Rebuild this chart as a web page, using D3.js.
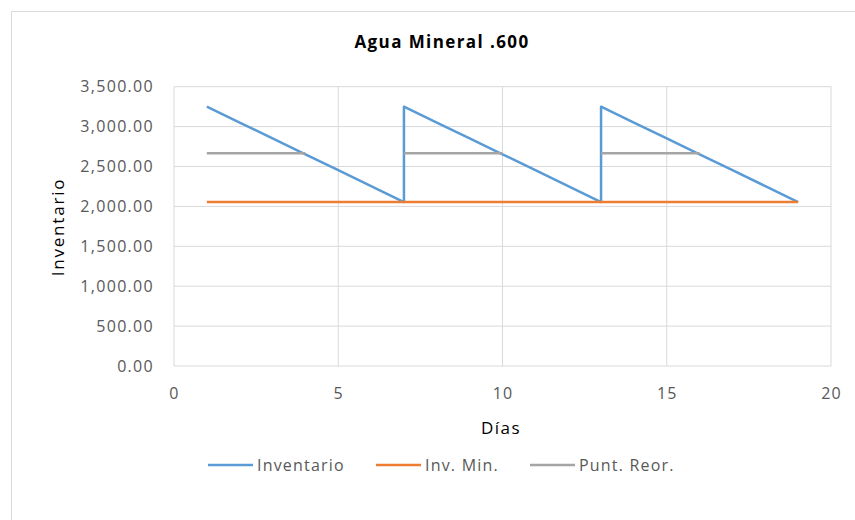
<!DOCTYPE html>
<html>
<head>
<meta charset="utf-8">
<script src="https://cdn.jsdelivr.net/npm/d3@7"></script>
<style>
  body { margin: 0; background: #fff; }
  svg text { font-family: "Open Sans", "Noto Sans", sans-serif; }
</style>
</head>
<body>
<div id="chart"></div>
<script>
// days (day 7 and 13 appear twice: end of cycle + restock)
var dias = [1, 2, 3, 4, 5, 6, 7, 7, 8, 9, 10, 11, 12, 13, 13, 14, 15, 16, 17, 18, 19];
var inventario = [3250, 3051, 2852, 2653, 2454, 2254, 2055, 3250, 3051, 2852, 2653, 2454, 2254, 2055, 3250, 3051, 2852, 2653, 2454, 2254, 2055];
var invMin = [2055, 2055, 2055, 2055, 2055, 2055, 2055, 2055, 2055, 2055, 2055, 2055, 2055, 2055, 2055, 2055, 2055, 2055, 2055, 2055, 2055];
var puntReor = [2665, 2665, 2665, 2665, null, null, null, 2665, 2665, 2665, 2665, null, null, null, 2665, 2665, 2665, 2665, null, null, null];
var xTicks = [0, 5, 10, 15, 20];
var yTicks = [0, 500, 1000, 1500, 2000, 2500, 3000, 3500];

var series = [
  {name: "Inventario", values: inventario, color: "#5B9BD5"},
  {name: "Inv. Min.", values: invMin, color: "#ED7D31"},
  {name: "Punt. Reor.", values: puntReor, color: "#A5A5A5"}
];

function drawChart() {
  var W = 855, H = 520;
  var pLeft = 174, pRight = 831, pTop = 86.7, pBottom = 366;

  var svg = d3.select("#chart").append("svg")
    .attr("width", W)
    .attr("height", H);

  // chart border (right/bottom edges fall outside the picture)
  svg.append("rect")
    .attr("x", 11.5).attr("y", 11.5)
    .attr("width", W + 20).attr("height", H + 20)
    .attr("fill", "#fff")
    .attr("stroke", "#D9D9D9");

  var x = d3.scaleLinear().domain([0, 20]).range([pLeft, pRight]);
  var y = d3.scaleLinear().domain([0, 3500]).range([pBottom, pTop]);

  // gridlines
  svg.append("g").selectAll("line")
    .data(yTicks)
    .enter().append("line")
      .attr("x1", pLeft).attr("x2", pRight)
      .attr("y1", function(d){ return y(d); })
      .attr("y2", function(d){ return y(d); })
      .attr("stroke", "#D9D9D9");
  svg.append("g").selectAll("line")
    .data(xTicks)
    .enter().append("line")
      .attr("y1", pTop).attr("y2", pBottom)
      .attr("x1", function(d){ return x(d); })
      .attr("x2", function(d){ return x(d); })
      .attr("stroke", "#D9D9D9");

  // y axis labels
  var fmt = d3.format(",.2f");
  svg.append("g").selectAll("text")
    .data(yTicks)
    .enter().append("text")
      .attr("x", 154)
      .attr("y", function(d){ return y(d) + 5.5; })
      .attr("text-anchor", "end")
      .attr("fill", "#595959")
      .style("font-size", "16px")
      .style("letter-spacing", "1.3px")
      .text(function(d){ return fmt(d); });

  // x axis labels
  svg.append("g").selectAll("text")
    .data(xTicks)
    .enter().append("text")
      .attr("x", function(d){ return x(d) + 0.6; })
      .attr("y", 399)
      .attr("text-anchor", "middle")
      .attr("fill", "#595959")
      .style("font-size", "16px")
      .style("letter-spacing", "1.3px")
      .text(function(d){ return d; });

  // lines
  var line = d3.line()
    .defined(function(d){ return d.v != null; })
    .x(function(d){ return x(d.x); })
    .y(function(d){ return y(d.v); });

  series.forEach(function(s){
    var pts = dias.map(function(dd, i){ return {x: dd, v: s.values[i]}; });
    svg.append("path")
      .datum(pts)
      .attr("fill", "none")
      .attr("stroke", s.color)
      .attr("stroke-width", 2.5)
      .attr("stroke-linejoin", "round")
      .attr("d", line);
  });

  // title
  svg.append("text")
    .attr("x", 442).attr("y", 48)
    .attr("text-anchor", "middle")
    .attr("fill", "#000")
    .style("font-size", "17px")
    .style("font-weight", "bold")
    .style("letter-spacing", "1.4px")
    .text("Agua Mineral .600");

  // axis titles
  svg.append("text")
    .attr("x", 501).attr("y", 434)
    .attr("text-anchor", "middle")
    .attr("fill", "#000")
    .style("font-size", "17px")
    .style("letter-spacing", "1.5px")
    .text("Días");
  svg.append("text")
    .attr("transform", "translate(64,227) rotate(-90)")
    .attr("text-anchor", "middle")
    .attr("fill", "#000")
    .style("font-size", "17px")
    .style("letter-spacing", "1.8px")
    .text("Inventario");

  // legend
  var legX = [208, 376, 530];
  var leg = svg.append("g").selectAll("g")
    .data(series)
    .enter().append("g")
      .attr("transform", function(d, i){ return "translate(" + legX[i] + ",465)"; });
  leg.append("line")
    .attr("x1", 0).attr("x2", 45)
    .attr("stroke", function(d){ return d.color; })
    .attr("stroke-width", 2.5);
  leg.append("text")
    .attr("x", 49).attr("y", 5.5)
    .attr("fill", "#595959")
    .style("font-size", "16px")
    .style("letter-spacing", "1.2px")
    .text(function(d){ return d.name; });
}

drawChart();
</script>
</body>
</html>
